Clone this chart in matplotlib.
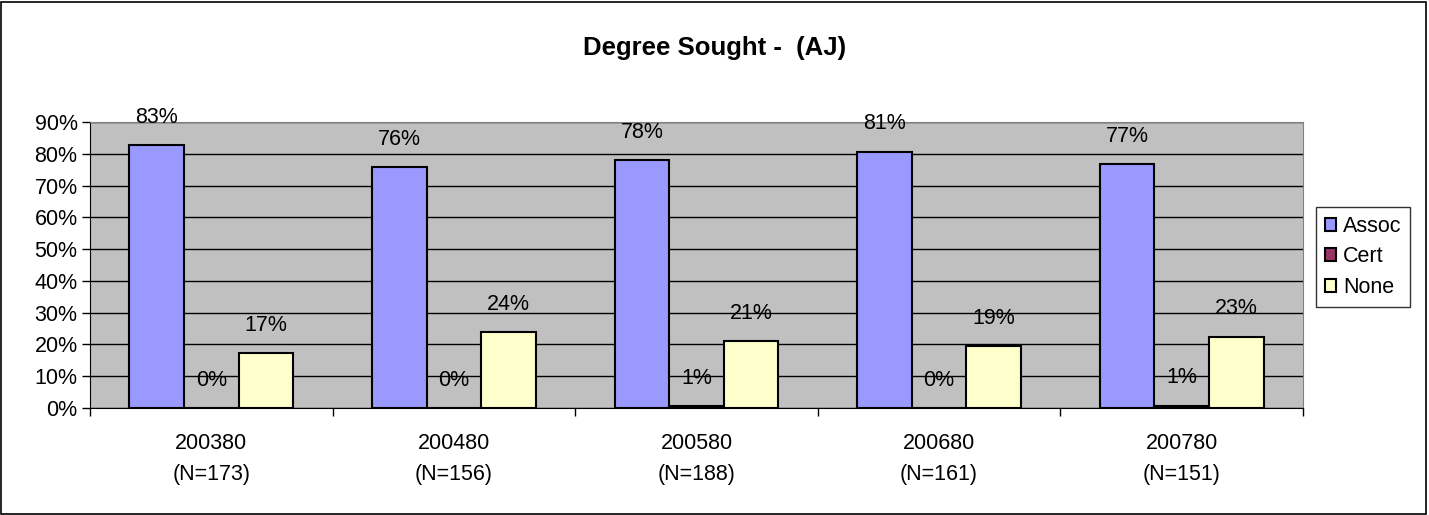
import matplotlib.pyplot as plt
import numpy as np
from matplotlib.patches import Rectangle

terms = ['200380\n(N=173)', '200480\n(N=156)', '200580\n(N=188)', '200680\n(N=161)', '200780\n(N=151)']
assoc = [82.7, 75.8, 78.0, 80.7, 76.8]
cert = [0.0, 0.0, 0.5, 0.0, 0.7]
none = [17.3, 23.9, 21.1, 19.4, 22.5]
assoc_lbl = ['83%', '76%', '78%', '81%', '77%']
cert_lbl = ['0%', '0%', '1%', '0%', '1%']
none_lbl = ['17%', '24%', '21%', '19%', '23%']

plt.rcParams['font.family'] = ['Liberation Sans', 'DejaVu Sans']
fs = 15.5

fig = plt.figure(figsize=(14.29, 5.15), dpi=100)
fig.patches.append(Rectangle((0.001, 0.002), 0.997, 0.995, transform=fig.transFigure,
                             fill=False, edgecolor='black', linewidth=1.2))
ax = fig.add_axes([90 / 1429, 1 - 408 / 515, 1213 / 1429, 286 / 515])
ax.set_facecolor('#C0C0C0')

x = np.arange(len(terms))
w = 0.225
series = [(assoc, assoc_lbl, '#9999FF', 'Assoc', -w),
          (cert, cert_lbl, '#993366', 'Cert', 0),
          (none, none_lbl, '#FFFFCC', 'None', w)]
for vals, lbls, col, name, off in series:
    ax.bar(x + off, vals, w, color=col, edgecolor='black', linewidth=1.5, label=name, zorder=3)
    for xi, v, t in zip(x, vals, lbls):
        ax.annotate(t, (xi + off, v), xytext=(0, 20), textcoords='offset points',
                    ha='center', va='center', fontsize=fs, zorder=4, annotation_clip=False)

ax.set_xlim(-0.5, len(terms) - 0.5)
ax.set_ylim(0, 90)
ax.set_yticks(np.arange(0, 91, 10))
ax.set_yticklabels([f'{v}%' for v in range(0, 91, 10)], fontsize=fs)
ax.set_xticks(x)
ax.set_xticklabels(terms, fontsize=fs, linespacing=1.65)
ax.set_xticks(np.arange(-0.5, len(terms)), minor=True)
ax.tick_params(axis='x', which='major', length=0, pad=18)
ax.tick_params(axis='x', which='minor', length=6, direction='out', width=1)
ax.tick_params(axis='y', length=6, direction='out', width=1, pad=3)
ax.yaxis.grid(True, color='black', linewidth=1, zorder=1)
ax.set_axisbelow(True)
for s in ['top', 'right']:
    ax.spines[s].set_color('#808080')
ax.spines['left'].set_color('black')
ax.spines['bottom'].set_color('black')

fig.text(0.5, 1 - 48 / 515, 'Degree Sought -  (AJ)', ha='center', va='center',
         fontsize=18.5, fontweight='bold')

leg = fig.legend(loc='center left', bbox_to_anchor=(1316 / 1429, 1 - 257 / 515),
                 fontsize=fs, frameon=True, fancybox=False, edgecolor='black',
                 handlelength=0.55, handleheight=0.55, handletextpad=0.3,
                 labelspacing=0.45, borderpad=0.4, borderaxespad=0)
leg.get_frame().set_linewidth(1)

fig.savefig('out.png', dpi=100)
